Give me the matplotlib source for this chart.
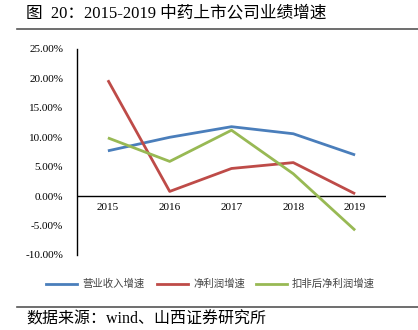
import matplotlib
matplotlib.use("Agg")
import matplotlib.pyplot as plt
from matplotlib.lines import Line2D

years = ["2015", "2016", "2017", "2018", "2019"]
revenue_growth = [7.7, 10.0, 11.8, 10.6, 7.0]
profit_growth = [19.7, 0.8, 4.7, 5.7, 0.4]
core_profit_growth = [9.9, 5.9, 11.2, 3.8, -5.8]
series_names = ["营业收入增速", "净利润增速", "扣非后净利润增速"]
yticks = [-10, -5, 0, 5, 10, 15, 20, 25]

colors = ["#4A7EBB", "#BE4B48", "#98B954"]
serif_cjk = ["Liberation Serif", "Noto Sans CJK SC"]
cjk = ["Noto Sans CJK SC", "DejaVu Sans"]

W, H = 418, 330
fig = plt.figure(figsize=(W / 100, H / 100), dpi=100)
ax = fig.add_axes([77 / W, 1 - 255 / H, (386 - 77) / W, (255 - 49) / H])

x = range(len(years))
for vals, c in zip([revenue_growth, profit_growth, core_profit_growth], colors):
    ax.plot(x, vals, color=c, lw=2.0, solid_capstyle="butt", zorder=3)

ax.set_xlim(-0.5, len(years) - 0.5)
ax.set_ylim(-10, 25)
ax.set_yticks(yticks)
ax.set_yticklabels([f"{v:.2f}%" for v in yticks], family="Liberation Serif", fontsize=8)
ax.tick_params(axis="y", length=0, pad=10)
ax.set_xticks([])
for s in ["top", "right", "bottom"]:
    ax.spines[s].set_visible(False)
ax.spines["left"].set_linewidth(1.0)
ax.axhline(0, color="black", lw=1.0, zorder=2)
for i, yr in enumerate(years):
    ax.text(i, -1.9, yr, ha="center", va="center", family="Liberation Serif", fontsize=8)

# title and rules
fig.text(26 / W, 1 - 13 / H, "图  20：2015-2019 中药上市公司业绩增速", family=serif_cjk,
         fontsize=12, va="center", ha="left")
fig.add_artist(Line2D([17 / W, 1], [1 - 29 / H] * 2, color="#555555", lw=1.2))
fig.add_artist(Line2D([17 / W, 1], [1 - 306.5 / H] * 2, color="#555555", lw=1.2))

# legend
leg_x = [46, 157, 256]
for lx, name, c in zip(leg_x, series_names, colors):
    fig.add_artist(Line2D([lx / W, (lx + 31) / W], [1 - 284 / H] * 2, color=c, lw=2.0))
    fig.text((lx + 36) / W, 1 - 284 / H, name, family=cjk, fontsize=7.5,
             color="#444444", va="center", ha="left")

fig.text(26 / W, 1 - 320 / H, "数据来源：wind、山西证券研究所", family=serif_cjk,
         fontsize=11.5, va="center", ha="left")

fig.savefig("out.png", dpi=100)
